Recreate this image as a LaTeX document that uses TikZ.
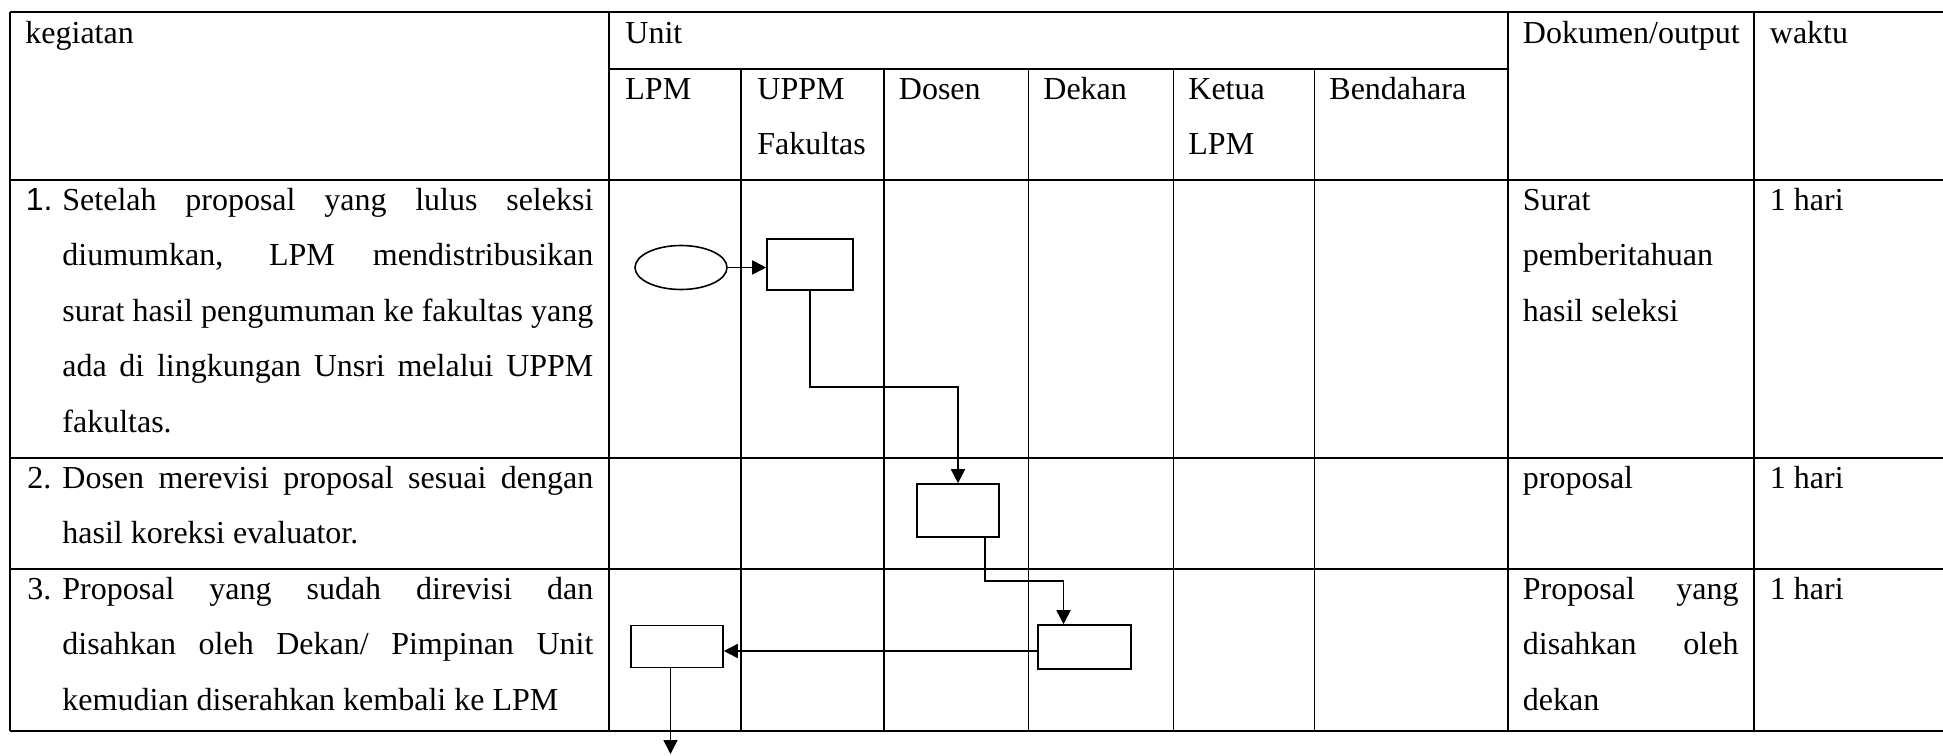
\documentclass[tikz,border=0pt]{standalone}
\usepackage{fontspec}
\setmainfont{Liberation Serif}
\newfontfamily\numfont{Liberation Sans}
\usetikzlibrary{shapes.geometric,arrows.meta}
\newcommand{\justL}[1]{\makebox[265.5pt][s]{#1}}
\newcommand{\justD}[1]{\makebox[107.8pt][s]{#1}}
\begin{document}
\begin{tikzpicture}[x=0.5pt,y=-0.5pt,
  tbl/.style={line width=0.9pt},
  txt/.style={anchor=base west, inner sep=0pt, font=\fontsize{16}{20}\selectfont},
  box/.style={draw, rectangle, line width=0.8pt, inner sep=0pt},
  oval/.style={draw, ellipse, line width=0.8pt, inner sep=0pt},
  flowarrow/.style={line width=0.85pt, -{Triangle[length=7pt,width=7pt]}}]
\useasboundingbox (0,0) rectangle (1943,755);

% table rules
\draw[tbl] (10,12) -- (1943,12);
\draw[tbl] (609,69) -- (1508,69);
\draw[tbl] (10,180) -- (1943,180);
\draw[tbl] (10,458) -- (1943,458);
\draw[tbl] (10,569) -- (1943,569);
\draw[tbl] (10,731) -- (1943,731);
\draw[tbl] (10,12) -- (10,731);
\foreach \x in {609,1508,1754} \draw[tbl] (\x,12) -- (\x,731);
\foreach \x in {741,884,1028.5,1173.5,1314.5} \draw[tbl] (\x,69) -- (\x,731);

% header texts
\node[txt] (hkeg) at (25,43) {kegiatan};
\node[txt] (hunit) at (625,43) {Unit};
\node[txt] (hlpm) at (625,99) {LPM};
\node[txt] (huppm) at (757,99) {UPPM};
\node[txt] (hfak) at (757,154.5) {Fakultas};
\node[txt] (hdos) at (898.5,99) {Dosen};
\node[txt] (hdek) at (1043,99) {Dekan};
\node[txt] (hket) at (1188,99) {Ketua};
\node[txt] (hket2) at (1188,154.5) {LPM};
\node[txt] (hben) at (1329,99) {Bendahara};
\node[txt] (hdok) at (1522.5,43) {Dokumen/output};
\node[txt] (hwak) at (1769.5,43) {waktu};

% row 1
\node[txt] (n1) at (25.5,210) {\numfont 1.};
\node[txt] (t1a) at (62,210) {\justL{Setelah proposal yang lulus seleksi}};
\node[txt] (t1b) at (62,265.5) {\justL{diumumkan, LPM mendistribusikan}};
\node[txt] (t1c) at (62,321) {\justL{surat hasil pengumuman ke fakultas yang}};
\node[txt] (t1d) at (62,376.5) {\justL{ada di lingkungan Unsri melalui UPPM}};
\node[txt] (t1e) at (62,432) {fakultas.};
\node[txt] (d1a) at (1522.5,210) {Surat};
\node[txt] (d1b) at (1522.5,265.5) {pemberitahuan};
\node[txt] (d1c) at (1522.5,321) {hasil seleksi};
\node[txt] (w1) at (1769.5,210) {1 hari};

% row 2
\node[txt] (n2) at (27,488) {2.};
\node[txt] (t2a) at (62,488) {\justL{Dosen merevisi proposal sesuai dengan}};
\node[txt] (t2b) at (62,543.5) {hasil koreksi evaluator.};
\node[txt] (d2a) at (1522.5,488) {proposal};
\node[txt] (w2) at (1769.5,488) {1 hari};

% row 3
\node[txt] (n3) at (27,599) {3.};
\node[txt] (t3a) at (62,599) {\justL{Proposal yang sudah direvisi dan}};
\node[txt] (t3b) at (62,654.5) {\justL{disahkan oleh Dekan/ Pimpinan Unit}};
\node[txt] (t3c) at (62,710) {kemudian diserahkan kembali ke LPM};
\node[txt] (d3a) at (1522.5,599) {\justD{Proposal yang}};
\node[txt] (d3b) at (1522.5,654.5) {\justD{disahkan oleh}};
\node[txt] (d3c) at (1522.5,710) {dekan};
\node[txt] (w3) at (1769.5,599) {1 hari};

% flow shapes
\node[oval, minimum width=46pt, minimum height=22pt] (e1) at (681,267.5) {};
\node[box, minimum width=43pt, minimum height=25.5pt] (b1) at (810,264.5) {};
\node[box, minimum width=41pt, minimum height=26.5pt] (b2) at (958,510.5) {};
\node[box, minimum width=46.5pt, minimum height=22pt] (b3) at (1084.5,647) {};
\node[box, minimum width=46pt, minimum height=21pt] (b4) at (677,646.5) {};

% connectors
\draw[flowarrow] (e1.east) -- (e1.east -| b1.west);
\coordinate (k1) at (958,387);
\draw[flowarrow] (b1.south) |- (k1) -- (b2.north);
\coordinate (k2) at (985,581);
\coordinate (k3) at (1063.5,581);
\draw[flowarrow] (k2 |- b2.south) -- (k2) -- (k3) -- (k3 |- b3.north);
\coordinate (k4) at ([yshift=-2pt]b3.west);
\draw[flowarrow] (k4) -- (k4 -| b4.east);
\coordinate (k5) at (670.5,754);
\draw[flowarrow] (k5 |- b4.south) -- (k5);
\end{tikzpicture}
\end{document}
